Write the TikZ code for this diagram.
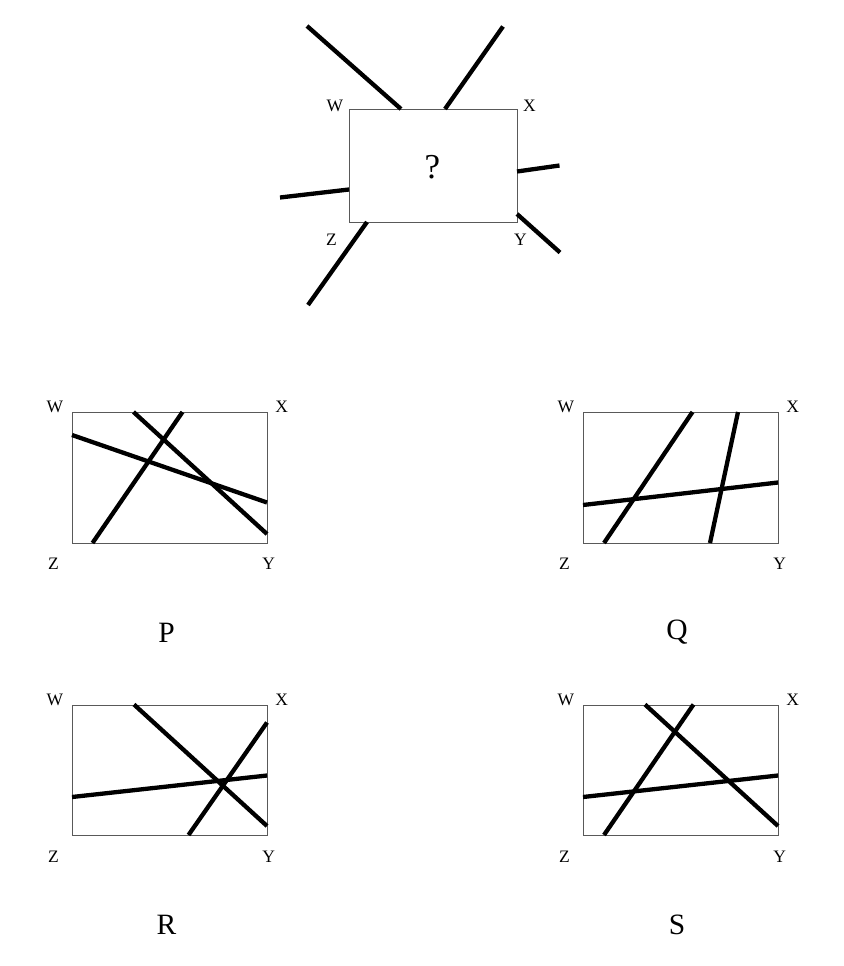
\documentclass[tikz,border=0pt]{standalone}
\usepackage{fontspec}
\setmainfont{Liberation Serif}
\usepackage{tikz}
\usetikzlibrary{positioning, calc}

\begin{document}
\begin{tikzpicture}[x=1pt, y=-1pt, line join=miter]
        % Define colors
        \definecolor{framegray}{rgb}{0.35, 0.35, 0.35}

        % Styles
        \tikzset{
            box/.style={draw=framegray, line width=1.2pt, inner sep=0pt, anchor=north west},
            cut/.style={line width=4.3pt, black},
            corner/.style={font=\fontsize{17.5}{20}\selectfont, inner sep=0pt},
            choice/.style={font=\fontsize{29.5}{32}\selectfont, inner sep=0pt}
        }
        \useasboundingbox (0,0) rectangle (843,966);

        % Question box
        \node[box, minimum width=168pt, minimum height=113pt] (boxQ0) at (349,109) {};
        \node[font=\fontsize{35}{38}\selectfont, inner sep=0pt] (qmark) at (432.5,167) {?};
        \node[corner] at (335,106) {W};
        \node[corner] at (529.5,106) {X};
        \node[corner] at (331.5,239.5) {Z};
        \node[corner] at (520.5,239.5) {Y};

        % Lines leaving the question box
        \draw[cut] (307,26) -- (401,109);
        \draw[cut] (503,26.5) -- (445,109);
        \draw[cut] (280,197.5) -- (349,189.5);
        \draw[cut] (517,171.5) -- (559.5,165.5);
        \draw[cut] (517,214) -- (560,252.5);
        \draw[cut] (367,222) -- (308,305);

        % Answer boxes
        \foreach \px/\py/\name/\lx/\ly in {72/412/P/166.5/632.5, 583/412/Q/677/632.5, 72/704.5/R/166.5/925, 583/704.5/S/677/925} {
            \node[box, minimum width=195pt, minimum height=130.5pt] (box\name) at (\px,\py) {};
            \node[corner] at ($(box\name.north west)+(-17,-5)$) {W};
            \node[corner] at ($(box\name.north east)+(13.5,-5)$) {X};
            \node[corner] at ($(box\name.south west)+(-18.5,20.5)$) {Z};
            \node[corner] at ($(box\name.south east)+(0.5,20.5)$) {Y};
            \node[choice] (label\name) at (\lx,\ly) {\name};
        }

        % P
        \draw[cut] (133.5,412) -- (267,534);
        \draw[cut] (182.5,412) -- (92.5,543);
        \draw[cut] (72,435) -- (267,502.5);

        % Q
        \draw[cut] (692.5,412) -- (604,543);
        \draw[cut] (738,412) -- (710,543);
        \draw[cut] (583,505) -- (778,482.5);

        % R
        \draw[cut] (134,704.5) -- (267,826);
        \draw[cut] (267,722.5) -- (188.5,835);
        \draw[cut] (72,797) -- (267,775.5);

        % S
        \draw[cut] (645,704.5) -- (778,826);
        \draw[cut] (693.5,704.5) -- (604,835);
        \draw[cut] (583,797) -- (778,775.5);
    \end{tikzpicture}
\end{document}
